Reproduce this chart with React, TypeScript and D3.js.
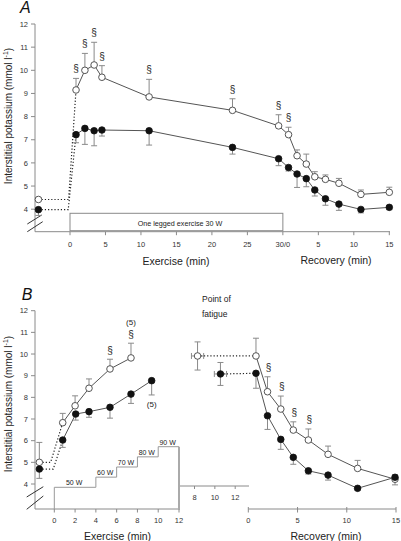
import React from 'react';
import * as d3 from 'd3';

// ---------- Panel A data ----------
const aExTimes = [0.85, 2.1, 3.4, 4.5, 11.15, 22.9, 29.4];
const aRecTimes = [0.8, 2.0, 3.3, 4.5, 6.0, 7.9, 11.0, 15];
const aOpen = [9.15, 10.0, 10.23, 9.7, 8.85, 8.27, 7.6, 7.22, 6.31, 5.95, 5.4, 5.29, 5.12, 4.64, 4.73];
const aOpenErr = [0.5, 0.73, 0.98, 0.5, 0.76, 0.5, 0.48, 0.32, 0.25, 0.43, 0.22, 0.19, 0.21, 0.19, 0.22];
const aFilled = [7.22, 7.49, 7.39, 7.42, 7.39, 6.67, 6.18, 5.8, 5.52, 5.32, 4.83, 4.45, 4.22, 3.99, 4.08];
const aFilledErr = [0.35, 0.69, 0.65, 0.26, 0.62, 0.29, 0.3, 0.15, 0.58, 0.35, 0.26, 0.28, 0.27, 0.15, 0.1];
const aSigIdx = [0, 1, 2, 3, 4, 5, 6, 7];
const aBaseTime = -4.45;
const aBaseOpen = 4.42;
const aBaseOpenErr = 0.08;
const aBaseFilled = 3.98;
const aBaseFilledErr = 0.25;
const aTickValues = [0, 5, 10, 15, 20, 25, 30, 35, 40, 45];
const aTickLabels = ['0', '5', '10', '15', '20', '25', '30/0', '5', '10', '15'];
const yTicks = [4, 5, 6, 7, 8, 9, 10, 11, 12];

// ---------- Panel B data ----------
const bBaseTime = -1.44;
const bBaseOpen = 5.0;
const bBaseOpenErr = 0.92;
const bBaseFilled = 4.69;
const bBaseFilledErr = 0.43;
const bExOpenTimes = [0.81, 2.0, 3.34, 5.36, 7.38];
const bExOpen = [6.83, 7.61, 8.42, 9.31, 9.82];
const bExOpenErr = [0.43, 0.46, 0.43, 0.45, 0.68];
const bExFilledTimes = [0.81, 2.06, 3.34, 5.36, 7.38, 9.37];
const bExFilled = [6.03, 7.23, 7.34, 7.54, 8.15, 8.77];
const bExFilledErr = [0.34, 0.28, 0.26, 0.5, 0.43, 0.66];
const bExSigIdx = [3, 4];
const bFatOpen = { t: 8.3, v: 9.91, te: 0.6, ve: 0.65 };
const bFatFilled = { t: 10.55, v: 9.08, te: 0.6, ve: 0.53 };
const bRecTimes = [0.78, 1.95, 3.3, 4.57, 6.1, 8.1, 11.1, 14.9];
const bRecOpen = [9.91, 8.26, 7.46, 6.49, 6.03, 5.37, 4.72, 4.22];
const bRecOpenErr = [0.82, 0.69, 0.6, 0.38, 0.51, 0.38, 0.37, 0.2];
const bRecFilled = [9.11, 7.15, 6.06, 5.23, 4.61, 4.41, 3.8, 4.31];
const bRecFilledErr = [0.69, 0.63, 0.46, 0.32, 0.15, 0.23, 0.08, 0.35];
const bRecSigIdx = [1, 2, 3, 4];
const bExTicks = [0, 2, 4, 6, 8, 10, 12];
const bFatTicks = [8, 10, 12];
const bRecTicks = [0, 5, 10, 15];
const stepStarts = [0, 4, 6, 8, 10];
const stepEnd = 12;
const stepWatts = [50, 60, 70, 80, 90];
const stepLabels = ['50 W', '60 W', '70 W', '80 W', '90 W'];

const FONT = 'Liberation Sans, Arial, sans-serif';
const AXIS = '#8a8a8a';
const LINE = '#555';
const ERR = '#8a8a8a';
const TXT = '#333';

function ErrV({ x, y1, y2 }: { x: number; y1: number; y2: number }) {
  return (
    <g stroke={ERR} strokeWidth={1}>
      <line x1={x} x2={x} y1={y1} y2={y2} />
      <line x1={x - 3} x2={x + 3} y1={y2} y2={y2} />
    </g>
  );
}

function ErrH({ y, x1, x2 }: { y: number; x1: number; x2: number }) {
  return (
    <g stroke={ERR} strokeWidth={1}>
      <line x1={x1} x2={x2} y1={y} y2={y} />
      <line x1={x1} x2={x1} y1={y - 3} y2={y + 3} />
      <line x1={x2} x2={x2} y1={y - 3} y2={y + 3} />
    </g>
  );
}

function Dot({ x, y, open }: { x: number; y: number; open: boolean }) {
  return open ? (
    <circle cx={x} cy={y} r={3.3} fill="#fff" stroke={LINE} strokeWidth={1} />
  ) : (
    <circle cx={x} cy={y} r={3.3} fill="#111" stroke="#111" strokeWidth={0.8} />
  );
}

export default function App() {
  // ----- scales A -----
  const xA = d3.scaleLinear().domain([0, 45]).range([70, 389.3]);
  const yA = d3.scaleLinear().domain([4, 12]).range([209.2, 24]);
  const aTimes = [...aExTimes, ...aRecTimes.map((t) => t + 30)];
  const lineA = d3.line<[number, number]>().x((d) => xA(d[0])).y((d) => yA(d[1]));
  const aOpenPts: [number, number][] = aTimes.map((t, i) => [t, aOpen[i]]);
  const aFilledPts: [number, number][] = aTimes.map((t, i) => [t, aFilled[i]]);
  const aOpenDotted: [number, number][] = [[aBaseTime, aBaseOpen], [-0.2, aBaseOpen], [aTimes[0], aOpen[0]]];
  const aFilledDotted: [number, number][] = [[aBaseTime, aBaseFilled], [-0.25, aBaseFilled], [aTimes[0], aFilled[0]]];
  const aAxisY = 231.7;

  // ----- scales B -----
  const yB = d3.scaleLinear().domain([4, 12]).range([484, 310.7]);
  const xBex = d3.scaleLinear().domain([0, 12]).range([54.3, 179]);
  const xBfat = d3.scaleLinear().domain([8, 12]).range([194.5, 235.2]);
  const xBrec = d3.scaleLinear().domain([0, 15]).range([248.3, 396]);
  const bAxisY = 509;
  const fatAxisY = 486;
  const lineBex = d3.line<[number, number]>().x((d) => xBex(d[0])).y((d) => yB(d[1]));
  const lineBrec = d3.line<[number, number]>().x((d) => xBrec(d[0])).y((d) => yB(d[1]));
  const bExOpenPts: [number, number][] = bExOpenTimes.map((t, i) => [t, bExOpen[i]]);
  const bExFilledPts: [number, number][] = bExFilledTimes.map((t, i) => [t, bExFilled[i]]);
  const bRecOpenPts: [number, number][] = bRecTimes.map((t, i) => [t, bRecOpen[i]]);
  const bRecFilledPts: [number, number][] = bRecTimes.map((t, i) => [t, bRecFilled[i]]);
  const bOpenDotted: [number, number][] = [[bBaseTime, bBaseOpen], [-0.35, bBaseOpen], [bExOpenTimes[0], bExOpen[0]]];
  const bFilledDotted: [number, number][] = [[bBaseTime, bBaseFilled], [-0.1, bBaseFilled], [bExFilledTimes[0], bExFilled[0]]];

  const wY = d3.scaleLinear().domain([50, 90]).range([487.3, 446.7]);
  const stepPts: [number, number][] = [
    [stepStarts[0], bAxisY],
    ...stepStarts.map((s, i) => [xBex(s), wY(stepWatts[i])] as [number, number]).map((p, i) => [i === 0 ? p[0] : p[0], p[1]] as [number, number]),
  ];
  const stepLine = d3.line<[number, number]>().curve(d3.curveStepAfter);
  const stepPath =
    `M${xBex(stepStarts[0])},${bAxisY}` +
    stepLine([...stepStarts.map((s, i) => [xBex(s), wY(stepWatts[i])] as [number, number]), [xBex(stepEnd), wY(stepWatts[stepWatts.length - 1])]])!.replace(/^M/, 'L');
  void stepPts;

  return (
    <svg width={401} height={541} style={{ position: 'absolute', left: 0, top: 0, background: '#fff' }} fontFamily={FONT}>
      {/* ================= PANEL A ================= */}
      <text x={20} y={13.3} fontSize={16} fontStyle="italic" fill="#111">A</text>
      {/* y axis */}
      <line x1={35} x2={35} y1={yA(12)} y2={aAxisY} stroke={AXIS} />
      {yTicks.map((t) => (
        <g key={'ya' + t}>
          <line x1={31} x2={35} y1={yA(t)} y2={yA(t)} stroke={AXIS} />
          <text x={28} y={yA(t)} dy="0.35em" fontSize={7.5} textAnchor="end" fill={TXT}>{t}</text>
        </g>
      ))}
      <line x1={27.3} y1={224} x2={41.7} y2={215} stroke="#333" />
      <line x1={27.3} y1={231.7} x2={42.7} y2={221.7} stroke="#333" />
      <text transform={`translate(12,116) rotate(-90)`} fontSize={10} textAnchor="middle" fill="#222">
        Interstitial potassium (mmol l<tspan dy={-4} fontSize={7}>-1</tspan><tspan dy={4}>)</tspan>
      </text>
      {/* x axis */}
      <line x1={35} x2={390} y1={aAxisY} y2={aAxisY} stroke={AXIS} />
      {aTickValues.map((t, i) => (
        <g key={'xa' + i}>
          <line x1={xA(t)} x2={xA(t)} y1={aAxisY} y2={aAxisY + 3.5} stroke={AXIS} />
          <text x={xA(t)} y={244.3} dy="0.35em" fontSize={7.5} textAnchor="middle" fill={TXT}>{aTickLabels[i]}</text>
        </g>
      ))}
      <text x={176} y={261} dy="0.35em" fontSize={10.5} textAnchor="middle" fill="#222">Exercise (min)</text>
      <text x={336} y={260.5} dy="0.35em" fontSize={10.5} textAnchor="middle" fill="#222">Recovery (min)</text>
      {/* exercise box */}
      <rect x={xA(0)} y={213.3} width={xA(30) - xA(0)} height={17.4} fill="#fff" stroke={AXIS} />
      <text x={180} y={223.3} dy="0.35em" fontSize={7.2} textAnchor="middle" fill="#222">One legged exercise  30 W</text>
      {/* dotted */}
      <path d={lineA(aOpenDotted)!} fill="none" stroke="#222" strokeWidth={1.2} strokeDasharray="1.2,2" />
      <path d={lineA(aFilledDotted)!} fill="none" stroke="#222" strokeWidth={1.2} strokeDasharray="1.2,2" />
      {/* lines */}
      <path d={lineA(aOpenPts)!} fill="none" stroke={LINE} strokeWidth={1} />
      <path d={lineA(aFilledPts)!} fill="none" stroke={LINE} strokeWidth={1} />
      {/* error bars */}
      <ErrV x={xA(aBaseTime)} y1={yA(aBaseOpen)} y2={yA(aBaseOpen + aBaseOpenErr)} />
      <ErrV x={xA(aBaseTime)} y1={yA(aBaseFilled)} y2={yA(aBaseFilled - aBaseFilledErr)} />
      {aTimes.map((t, i) => (
        <g key={'ea' + i}>
          <ErrV x={xA(t)} y1={yA(aOpen[i])} y2={yA(aOpen[i] + aOpenErr[i])} />
          <ErrV x={xA(t)} y1={yA(aFilled[i])} y2={yA(aFilled[i] - aFilledErr[i])} />
        </g>
      ))}
      {aSigIdx.map((i) => (
        <text key={'sa' + i} x={xA(aTimes[i])} y={yA(aOpen[i] + aOpenErr[i]) - 6} fontSize={10} textAnchor="middle" fill="#222">§</text>
      ))}
      <Dot x={xA(aBaseTime)} y={yA(aBaseOpen)} open={true} />
      <Dot x={xA(aBaseTime)} y={yA(aBaseFilled)} open={false} />
      {aTimes.map((t, i) => (
        <g key={'da' + i}>
          <Dot x={xA(t)} y={yA(aOpen[i])} open={true} />
          <Dot x={xA(t)} y={yA(aFilled[i])} open={false} />
        </g>
      ))}

      {/* ================= PANEL B ================= */}
      <text x={21.7} y={300} fontSize={16} fontStyle="italic" fill="#111">B</text>
      <line x1={35} x2={35} y1={yB(12)} y2={bAxisY} stroke={AXIS} />
      {yTicks.map((t) => (
        <g key={'yb' + t}>
          <line x1={31} x2={35} y1={yB(t)} y2={yB(t)} stroke={AXIS} />
          <text x={28} y={yB(t)} dy="0.35em" fontSize={7.5} textAnchor="end" fill={TXT}>{t}</text>
        </g>
      ))}
      <line x1={26.7} y1={497} x2={43.3} y2={486.7} stroke="#333" />
      <line x1={26.7} y1={509.3} x2={43.3} y2={496} stroke="#333" />
      <text transform={`translate(12,404) rotate(-90)`} fontSize={10} textAnchor="middle" fill="#222">
        Interstitial potassium (mmol l<tspan dy={-4} fontSize={7}>-1</tspan><tspan dy={4}>)</tspan>
      </text>
      {/* exercise axis */}
      <line x1={35} x2={xBex(12) + 1} y1={bAxisY} y2={bAxisY} stroke={AXIS} />
      {bExTicks.map((t) => (
        <g key={'xbe' + t}>
          <line x1={xBex(t)} x2={xBex(t)} y1={bAxisY} y2={bAxisY + 3.5} stroke={AXIS} />
          <text x={xBex(t)} y={520} dy="0.35em" fontSize={7.5} textAnchor="middle" fill={TXT}>{t}</text>
        </g>
      ))}
      <text x={117.5} y={536} dy="0.35em" fontSize={10.5} textAnchor="middle" fill="#222">Exercise (min)</text>
      {/* fatigue axis */}
      <line x1={180} x2={249} y1={fatAxisY} y2={fatAxisY} stroke={AXIS} />
      {bFatTicks.map((t) => (
        <g key={'xbf' + t}>
          <line x1={xBfat(t)} x2={xBfat(t)} y1={fatAxisY} y2={fatAxisY + 3} stroke={AXIS} />
          <text x={xBfat(t)} y={497.3} dy="0.35em" fontSize={7.5} textAnchor="middle" fill={TXT}>{t}</text>
        </g>
      ))}
      {/* recovery axis */}
      <line x1={xBrec(0)} x2={xBrec(15)} y1={bAxisY} y2={bAxisY} stroke={AXIS} />
      {bRecTicks.map((t) => (
        <g key={'xbr' + t}>
          <line x1={xBrec(t)} x2={xBrec(t)} y1={bAxisY - 2} y2={bAxisY + 3.5} stroke={AXIS} />
          <text x={xBrec(t)} y={520} dy="0.35em" fontSize={7.5} textAnchor="middle" fill={TXT}>{t}</text>
        </g>
      ))}
      <text x={326} y={536} dy="0.35em" fontSize={10.5} textAnchor="middle" fill="#222">Recovery (min)</text>
      <text x={202} y={299} dy="0.35em" fontSize={8.5} fill="#222">Point of</text>
      <text x={202} y={314} dy="0.35em" fontSize={8.5} fill="#222">fatigue</text>
      {/* workload steps */}
      <path d={stepPath} fill="none" stroke="#999" strokeWidth={1} />
      <line x1={xBex(stepEnd)} x2={xBex(stepEnd)} y1={wY(90)} y2={bAxisY} stroke="#aaa" strokeWidth={2} />
      {stepStarts.map((s, i) => {
        const e = i < stepStarts.length - 1 ? stepStarts[i + 1] : stepEnd;
        return (
          <text key={'sl' + i} x={xBex((s + e) / 2) - 1} y={wY(stepWatts[i]) - 2} fontSize={7} textAnchor="middle" fill="#222">{stepLabels[i]}</text>
        );
      })}
      {/* dotted */}
      <path d={lineBex(bOpenDotted)!} fill="none" stroke="#222" strokeWidth={1.2} strokeDasharray="1.2,2" />
      <path d={lineBex(bFilledDotted)!} fill="none" stroke="#222" strokeWidth={1.2} strokeDasharray="1.2,2" />
      <line x1={xBfat(bFatOpen.t)} x2={xBrec(bRecTimes[0])} y1={yB(bFatOpen.v)} y2={yB(bRecOpen[0])} stroke="#222" strokeWidth={1.2} strokeDasharray="1.2,2" />
      <line x1={xBfat(bFatFilled.t)} x2={xBrec(bRecTimes[0])} y1={yB(bFatFilled.v)} y2={yB(bRecFilled[0])} stroke="#222" strokeWidth={1.2} strokeDasharray="1.2,2" />
      {/* lines */}
      <path d={lineBex(bExOpenPts)!} fill="none" stroke={LINE} />
      <path d={lineBex(bExFilledPts)!} fill="none" stroke={LINE} />
      <path d={lineBrec(bRecOpenPts)!} fill="none" stroke={LINE} />
      <path d={lineBrec(bRecFilledPts)!} fill="none" stroke={LINE} />
      {/* error bars */}
      <ErrV x={xBex(bBaseTime)} y1={yB(bBaseOpen)} y2={yB(bBaseOpen + bBaseOpenErr)} />
      <ErrV x={xBex(bBaseTime)} y1={yB(bBaseFilled)} y2={yB(bBaseFilled - bBaseFilledErr)} />
      {bExOpenTimes.map((t, i) => (
        <ErrV key={'ebo' + i} x={xBex(t)} y1={yB(bExOpen[i])} y2={yB(bExOpen[i] + bExOpenErr[i])} />
      ))}
      {bExFilledTimes.map((t, i) => (
        <ErrV key={'ebf' + i} x={xBex(t)} y1={yB(bExFilled[i])} y2={yB(bExFilled[i] - bExFilledErr[i])} />
      ))}
      {[bFatOpen, bFatFilled].map((p, i) => (
        <g key={'fat' + i}>
          <ErrV x={xBfat(p.t)} y1={yB(p.v)} y2={yB(p.v + p.ve)} />
          <ErrV x={xBfat(p.t)} y1={yB(p.v)} y2={yB(p.v - p.ve)} />
          <ErrH y={yB(p.v)} x1={xBfat(p.t - p.te)} x2={xBfat(p.t + p.te)} />
        </g>
      ))}
      {bRecTimes.map((t, i) => (
        <g key={'ebr' + i}>
          <ErrV x={xBrec(t)} y1={yB(bRecOpen[i])} y2={yB(bRecOpen[i] + bRecOpenErr[i])} />
          <ErrV x={xBrec(t)} y1={yB(bRecFilled[i])} y2={yB(bRecFilled[i] - bRecFilledErr[i])} />
        </g>
      ))}
      {bExSigIdx.map((i) => (
        <text key={'sbe' + i} x={xBex(bExOpenTimes[i])} y={yB(bExOpen[i] + bExOpenErr[i]) - 5} fontSize={10} textAnchor="middle" fill="#222">§</text>
      ))}
      <text x={xBex(bExOpenTimes[4])} y={325} fontSize={8} textAnchor="middle" fill="#222">(5)</text>
      <text x={xBex(bExFilledTimes[5])} y={407} fontSize={8} textAnchor="middle" fill="#222">(5)</text>
      {bRecSigIdx.map((i) => (
        <text key={'sbr' + i} x={xBrec(bRecTimes[i]) + 1} y={yB(bRecOpen[i] + bRecOpenErr[i]) - 6} fontSize={10} textAnchor="middle" fill="#222">§</text>
      ))}
      {/* dots */}
      <Dot x={xBex(bBaseTime)} y={yB(bBaseOpen)} open={true} />
      <Dot x={xBex(bBaseTime)} y={yB(bBaseFilled)} open={false} />
      {bExOpenTimes.map((t, i) => <Dot key={'dbo' + i} x={xBex(t)} y={yB(bExOpen[i])} open={true} />)}
      {bExFilledTimes.map((t, i) => <Dot key={'dbf' + i} x={xBex(t)} y={yB(bExFilled[i])} open={false} />)}
      <Dot x={xBfat(bFatOpen.t)} y={yB(bFatOpen.v)} open={true} />
      <Dot x={xBfat(bFatFilled.t)} y={yB(bFatFilled.v)} open={false} />
      {bRecTimes.map((t, i) => (
        <g key={'dbr' + i}>
          <Dot x={xBrec(t)} y={yB(bRecOpen[i])} open={true} />
          <Dot x={xBrec(t)} y={yB(bRecFilled[i])} open={false} />
        </g>
      ))}
    </svg>
  );
}
